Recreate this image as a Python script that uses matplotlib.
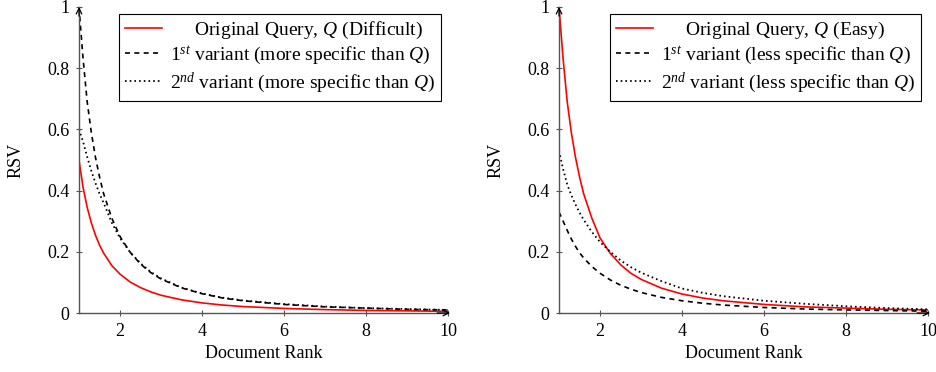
import matplotlib
matplotlib.use('Agg')
import matplotlib.pyplot as plt

plt.rcParams['font.family'] = ['Liberation Serif', 'DejaVu Serif']
plt.rcParams['mathtext.fontset'] = 'custom'
plt.rcParams['mathtext.rm'] = 'Liberation Serif'
plt.rcParams['mathtext.it'] = 'Liberation Serif:italic'

rank = [1, 1.1, 1.2, 1.3, 1.4, 1.5, 1.6, 1.8, 2, 2.25, 2.5, 2.75, 3, 3.5,
        4, 4.5, 5, 6, 7, 8, 9, 10]

# left panel: difficult query
diff_orig = [0.50, 0.41, 0.345, 0.295, 0.255, 0.222, 0.196, 0.155, 0.127, 0.101,
             0.083, 0.069, 0.058, 0.043, 0.033, 0.026, 0.021, 0.015, 0.011,
             0.0085, 0.007, 0.0055]
diff_var1 = [1.0, 0.83, 0.69, 0.59, 0.51, 0.445, 0.39, 0.31, 0.25, 0.198, 0.16,
             0.132, 0.111, 0.082, 0.063, 0.049, 0.04, 0.028, 0.02, 0.016,
             0.012, 0.01]
diff_var2 = [0.60, 0.56, 0.51, 0.465, 0.425, 0.39, 0.36, 0.295, 0.245, 0.198,
             0.162, 0.134, 0.113, 0.083, 0.064, 0.05, 0.041, 0.029, 0.021,
             0.016, 0.013, 0.01]

# right panel: easy query
easy_orig = [1.0, 0.83, 0.69, 0.59, 0.51, 0.445, 0.39, 0.31, 0.245, 0.195, 0.158,
             0.13, 0.11, 0.081, 0.062, 0.049, 0.04, 0.028, 0.02, 0.016, 0.012,
             0.01]
easy_var1 = [0.33, 0.30, 0.27, 0.242, 0.218, 0.197, 0.18, 0.152, 0.13, 0.108,
             0.091, 0.078, 0.067, 0.051, 0.04, 0.032, 0.026, 0.018, 0.013,
             0.01, 0.008, 0.006]
easy_var2 = [0.53, 0.47, 0.42, 0.385, 0.355, 0.328, 0.305, 0.265, 0.232, 0.2,
             0.172, 0.15, 0.132, 0.104, 0.08, 0.066, 0.055, 0.04, 0.03, 0.022,
             0.016, 0.012]

x_ticks = [2, 4, 6, 8, 10]
y_ticks = [0, 0.2, 0.4, 0.6, 0.8, 1]
y_tick_labels = ['0', '0.2', '0.4', '0.6', '0.8', '1']

labels_left = [r'     Original Query, $Q$ (Difficult)',
               r'1$^{st}$ variant (more specific than $Q$)',
               r'2$^{nd}$ variant (more specific than $Q$)']
labels_right = [r'     Original Query, $Q$ (Easy)',
                r'1$^{st}$ variant (less specific than $Q$)',
                r'2$^{nd}$ variant (less specific than $Q$)']

axis_col = '#555555'

fig = plt.figure(figsize=(9.37, 3.72), dpi=100)
ax1 = fig.add_axes([0.0843, 0.1586, 0.394, 0.8226])
ax2 = fig.add_axes([0.5966, 0.1586, 0.394, 0.8226])

panels = [(ax1, diff_orig, diff_var1, diff_var2, labels_left),
          (ax2, easy_orig, easy_var1, easy_var2, labels_right)]

for ax, orig, v1, v2, labs in panels:
    ax.plot(rank, orig, color='#ff0000', lw=1.2, label=labs[0])
    ax.plot(rank, v1, color='black', lw=1.2, dashes=(3, 2.6), label=labs[1])
    ax.plot(rank, v2, color='black', lw=1.3, dashes=(0.9, 1.7), label=labs[2])

    ax.set_xlim(1, 10)
    ax.set_ylim(0, 1)
    ax.set_xticks(x_ticks)
    ax.set_yticks(y_ticks)
    ax.set_yticklabels(y_tick_labels)
    ax.spines['top'].set_visible(False)
    ax.spines['right'].set_visible(False)
    for s in ['left', 'bottom']:
        ax.spines[s].set_color(axis_col)
        ax.spines[s].set_linewidth(1.0)
    ax.tick_params(direction='inout', length=4, width=0.8, color=axis_col,
                   labelsize=13, pad=5)

    # arrow heads at the axis ends
    ax.annotate('', xy=(0, 1.0), xytext=(0, 0.97), xycoords='axes fraction',
                arrowprops=dict(arrowstyle='->', color='black', lw=0.9,
                                shrinkA=0, shrinkB=0))
    ax.annotate('', xy=(1.005, 0), xytext=(0.97, 0), xycoords='axes fraction',
                arrowprops=dict(arrowstyle='->', color='black', lw=0.9,
                                shrinkA=0, shrinkB=0))

    ax.set_xlabel('Document Rank', fontsize=13, labelpad=4)
    ax.set_ylabel('RSV', fontsize=13, labelpad=16)

    leg = ax.legend(loc='upper right', fontsize=14, fancybox=False,
                    edgecolor='black', framealpha=1, handlelength=1.9,
                    handletextpad=0.45, labelspacing=0.18, borderpad=0.3,
                    borderaxespad=0.35)
    leg.get_frame().set_linewidth(0.8)

fig.savefig('out.png', dpi=100)
